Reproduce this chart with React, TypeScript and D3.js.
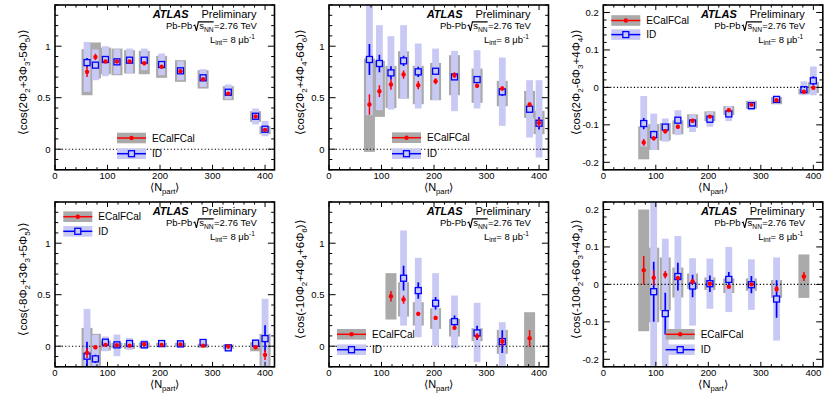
import React from "react";
import * as d3 from "d3";

const FONT = '"Liberation Sans", Arial, Helvetica, sans-serif';

// centrality bins: <N_part>
const NPART = [61, 77, 96, 118, 142, 170, 203, 239, 282, 330, 382, 400];
const X_TICKS = [0, 100, 200, 300, 400];
const Y_TICKS_WIDE = [0, 0.5, 1];
const Y_TICKS_NARROW = [-0.2, -0.1, 0, 0.1, 0.2];
const N = null;

// ---- Panel 1: <cos(2Φ2+3Φ3-5Φ5)>
const P1_EC_VAL = [0.751, 0.896, 0.851, 0.851, 0.851, 0.835, 0.8, 0.757, 0.68, 0.54, 0.317, 0.188];
const P1_EC_STAT = [0.05, 0.03, 0.015, 0.012, 0.012, 0.012, 0.012, 0.01, 0.01, 0.01, 0.01, 0.012];
const P1_EC_LO = [0.524, 0.686, 0.728, 0.718, 0.735, 0.728, 0.693, 0.654, 0.589, 0.476, 0.265, 0.146];
const P1_EC_HI = [0.971, 1.036, 0.987, 0.977, 0.961, 0.955, 0.906, 0.864, 0.767, 0.612, 0.369, 0.223];
const P1_ID_VAL = [0.841, 0.816, 0.871, 0.848, 0.864, 0.864, 0.822, 0.761, 0.693, 0.553, 0.32, 0.194];
const P1_ID_STAT = [0.045, 0.03, 0.015, 0.012, 0.012, 0.012, 0.012, 0.01, 0.01, 0.01, 0.01, 0.012];
const P1_ID_LO = [0.557, 0.67, 0.709, 0.728, 0.741, 0.767, 0.718, 0.67, 0.605, 0.485, 0.24, 0.126];
const P1_ID_HI = [1.042, 0.968, 1.0, 0.971, 0.977, 0.977, 0.929, 0.854, 0.777, 0.628, 0.395, 0.275];

// ---- Panel 2: <cos(2Φ2+4Φ4-6Φ6)>
const P2_EC_VAL = [N, 0.434, 0.563, 0.628, 0.725, 0.621, 0.66, 0.718, 0.615, 0.589, 0.434, 0.256];
const P2_EC_STAT = [N, 0.1, 0.057, 0.05, 0.04, 0.04, 0.03, 0.03, 0.02, 0.02, 0.02, 0.04];
const P2_EC_LO = [N, -0.026, 0.314, 0.401, 0.492, 0.437, 0.476, 0.524, 0.45, 0.417, 0.304, 0.146];
const P2_EC_HI = [N, 0.88, 0.858, 0.809, 0.951, 0.809, 0.838, 0.913, 0.783, 0.663, 0.566, 0.372];
const P2_ID_VAL = [N, 0.871, 0.832, 0.741, 0.858, 0.751, 0.757, 0.702, 0.676, 0.557, 0.388, 0.252];
const P2_ID_STAT = [N, 0.15, 0.085, 0.065, 0.05, 0.05, 0.03, 0.025, 0.035, 0.04, 0.03, 0.06];
const P2_ID_LO = [N, 0.33, 0.379, 0.385, 0.492, 0.395, 0.476, 0.369, 0.395, 0.227, 0.113, -0.081];
const P2_ID_HI = [N, 1.45, 1.204, 1.097, 1.204, 1.026, 0.977, 0.955, 0.961, 0.89, 0.67, 0.67];

// ---- Panel 3: <cos(2Φ2-6Φ3+4Φ4)>
const P3_EC_VAL = [N, -0.147, -0.136, -0.117, -0.105, -0.089, -0.078, -0.061, -0.046, -0.0345, -0.0115, -0.001];
const P3_EC_STAT = [N, 0.009, 0.006, 0.006, 0.005, 0.005, 0.004, 0.004, 0.003, 0.003, 0.003, 0.004];
const P3_EC_LO = [N, -0.192, -0.167, -0.142, -0.125, -0.108, -0.09, -0.074, -0.057, -0.045, -0.019, -0.015];
const P3_EC_HI = [N, -0.104, -0.098, -0.095, -0.088, -0.072, -0.064, -0.05, -0.036, -0.026, -0.0035, 0.014];
const P3_ID_VAL = [N, -0.0965, -0.126, -0.106, -0.0876, -0.095, -0.085, -0.0708, -0.0487, -0.032, -0.006, 0.0177];
const P3_ID_STAT = [N, 0.015, 0.01, 0.008, 0.006, 0.007, 0.007, 0.007, 0.004, 0.004, 0.005, 0.012];
const P3_ID_LO = [N, -0.158, -0.167, -0.145, -0.127, -0.119, -0.105, -0.09, -0.061, -0.043, -0.021, -0.021];
const P3_ID_HI = [N, -0.023, -0.07, -0.083, -0.061, -0.074, -0.065, -0.05, -0.035, -0.024, 0.016, 0.056];

// ---- Panel 4: <cos(-8Φ2+3Φ3+5Φ5)>
const P4_EC_VAL = [-0.065, -0.01, 0.013, 0.01, 0.006, 0.019, 0.013, 0.016, 0.006, -0.003, -0.01, -0.084];
const P4_EC_STAT = [0.05, 0.02, 0.01, 0.008, 0.008, 0.008, 0.008, 0.008, 0.008, 0.008, 0.01, 0.05];
const P4_EC_LO = [-0.25, -0.2, -0.042, -0.02, -0.026, -0.016, -0.01, -0.003, -0.016, -0.026, -0.049, -0.22];
const P4_EC_HI = [0.178, 0.12, 0.055, 0.032, 0.032, 0.036, 0.032, 0.032, 0.023, 0.016, 0.039, 0.12];
const P4_ID_VAL = [-0.097, -0.123, 0.039, 0.013, 0.026, 0.013, 0.026, 0.023, 0.036, -0.016, 0.029, 0.074];
const P4_ID_STAT = [0.14, 0.04, 0.02, 0.012, 0.01, 0.01, 0.01, 0.01, 0.01, 0.01, 0.02, 0.13];
const P4_ID_LO = [-0.25, -0.25, -0.049, -0.097, -0.036, -0.026, -0.01, -0.016, 0.006, -0.042, -0.016, -0.25];
const P4_ID_HI = [0.362, 0.11, 0.094, 0.113, 0.078, 0.061, 0.049, 0.055, 0.055, 0.016, 0.071, 0.46];

// ---- Panel 5: <cos(-10Φ2+4Φ4+6Φ6)>
const P5_EC_VAL = [N, N, N, 0.485, 0.453, 0.314, 0.275, 0.178, 0.097, 0.045, 0.078, N];
const P5_EC_STAT = [N, N, N, 0.05, 0.04, 0.02, 0.02, 0.02, 0.03, 0.04, 0.08, N];
const P5_EC_LO = [N, N, N, 0.259, 0.288, 0.2, 0.168, 0.094, 0.049, -0.074, -0.25, N];
const P5_EC_HI = [N, N, N, 0.709, 0.621, 0.427, 0.369, 0.265, 0.175, 0.159, 0.33, N];
const P5_ID_VAL = [N, N, N, N, 0.66, 0.54, 0.417, 0.239, 0.129, 0.045, N, N];
const P5_ID_STAT = [N, N, N, N, 0.12, 0.08, 0.06, 0.06, 0.07, 0.11, N, N];
const P5_ID_LO = [N, N, N, N, 0.2, 0.087, 0.006, -0.019, -0.155, -0.25, N, N];
const P5_ID_HI = [N, N, N, N, 1.123, 0.858, 0.709, 0.492, 0.421, 0.233, N, N];

// ---- Panel 6: <cos(-10Φ2+6Φ3+4Φ4)>
const P6_EC_VAL = [N, 0.038, 0.0177, 0.0257, 0.0168, 0.008, 0.0018, -0.0062, 0.0, -0.0124, 0.021, N];
const P6_EC_STAT = [N, 0.038, 0.02, 0.01, 0.006, 0.006, 0.004, 0.004, 0.004, 0.008, 0.012, N];
const P6_EC_LO = [N, -0.125, -0.101, -0.07, -0.035, -0.012, -0.015, -0.023, -0.017, -0.036, -0.036, N];
const P6_EC_HI = [N, 0.2, 0.098, 0.072, 0.045, 0.029, 0.0186, 0.016, 0.016, 0.0115, 0.08, N];
const P6_ID_VAL = [N, N, -0.0195, -0.078, 0.021, -0.0044, 0.0018, 0.0133, -0.0009, -0.039, N, N];
const P6_ID_STAT = [N, N, 0.08, 0.056, 0.037, 0.03, 0.022, 0.02, 0.023, 0.05, N, N];
const P6_ID_LO = [N, N, -0.3, -0.3, -0.141, -0.11, -0.065, -0.074, -0.068, -0.15, N, N];
const P6_ID_HI = [N, N, 0.218, 0.122, 0.129, 0.07, 0.069, 0.1, 0.067, 0.072, N, N];

const TITLES = [
  "⟨cos(2Φ_2+3Φ_3-5Φ_5)⟩",
  "⟨cos(2Φ_2+4Φ_4-6Φ_6)⟩",
  "⟨cos(2Φ_2-6Φ_3+4Φ_4)⟩",
  "⟨cos(-8Φ_2+3Φ_3+5Φ_5)⟩",
  "⟨cos(-10Φ_2+4Φ_4+6Φ_6)⟩",
  "⟨cos(-10Φ_2+6Φ_3+4Φ_4)⟩",
];

const COL_X = [0, 277, 553];
const ROW_Y = [0, 197];
const PLOT_LEFT = [55, 52, 50.3];
const PLOT_W = 219.5;
const X_MAX = 418;

const GRAY = "#aaaaaa";
const LAV = "#c9c9f6";

const PANELS = [
  { col: 0, row: 0, wide: true, title: TITLES[0], leg: { x: 117, y1: 138, y2: 153.7 },
    ec: { val: P1_EC_VAL, stat: P1_EC_STAT, lo: P1_EC_LO, hi: P1_EC_HI },
    id: { val: P1_ID_VAL, stat: P1_ID_STAT, lo: P1_ID_LO, hi: P1_ID_HI } },
  { col: 1, row: 0, wide: true, title: TITLES[1], leg: { x: 115, y1: 137.7, y2: 153.7 },
    ec: { val: P2_EC_VAL, stat: P2_EC_STAT, lo: P2_EC_LO, hi: P2_EC_HI },
    id: { val: P2_ID_VAL, stat: P2_ID_STAT, lo: P2_ID_LO, hi: P2_ID_HI } },
  { col: 2, row: 0, wide: false, title: TITLES[2], leg: { x: 58.3, y1: 20.5, y2: 34.6 },
    ec: { val: P3_EC_VAL, stat: P3_EC_STAT, lo: P3_EC_LO, hi: P3_EC_HI },
    id: { val: P3_ID_VAL, stat: P3_ID_STAT, lo: P3_ID_LO, hi: P3_ID_HI } },
  { col: 0, row: 1, wide: true, title: TITLES[3], leg: { x: 63.3, y1: 19.7, y2: 34.3 },
    ec: { val: P4_EC_VAL, stat: P4_EC_STAT, lo: P4_EC_LO, hi: P4_EC_HI },
    id: { val: P4_ID_VAL, stat: P4_ID_STAT, lo: P4_ID_LO, hi: P4_ID_HI } },
  { col: 1, row: 1, wide: true, title: TITLES[4], leg: { x: 60, y1: 137.3, y2: 152.7 },
    ec: { val: P5_EC_VAL, stat: P5_EC_STAT, lo: P5_EC_LO, hi: P5_EC_HI },
    id: { val: P5_ID_VAL, stat: P5_ID_STAT, lo: P5_ID_LO, hi: P5_ID_HI } },
  { col: 2, row: 1, wide: false, title: TITLES[5], leg: { x: 112.7, y1: 137.3, y2: 152.7 },
    ec: { val: P6_EC_VAL, stat: P6_EC_STAT, lo: P6_EC_LO, hi: P6_EC_HI },
    id: { val: P6_ID_VAL, stat: P6_ID_STAT, lo: P6_ID_LO, hi: P6_ID_HI } },
];

let _ctx: CanvasRenderingContext2D | null = null;
function tw(text: string, size: number) {
  if (!_ctx) _ctx = document.createElement("canvas").getContext("2d");
  if (!_ctx) return text.length * size * 0.55;
  _ctx.font = `${size}px ${FONT}`;
  return _ctx.measureText(text).width;
}

function segments(s: string) {
  const segs: { t: string; k: number }[] = [];
  let i = 0, buf = "";
  const push = (t: string, k: number) => { if (t) segs.push({ t, k }); };
  while (i < s.length) {
    const c = s[i];
    if (c === "_" || c === "^") {
      push(buf, 0); buf = "";
      const k = c === "_" ? 1 : 2;
      if (s[i + 1] === "{") { const j = s.indexOf("}", i + 2); push(s.slice(i + 2, j), k); i = j + 1; }
      else { push(s[i + 1], k); i += 2; }
    } else { buf += c; i++; }
  }
  push(buf, 0);
  return segs;
}

function Rich({ s, fs }: { s: string; fs: number }) {
  let cur = 0;
  return (
    <>
      {segments(s).map((sg, i) => {
        const target = sg.k === 1 ? 0.3 * fs : sg.k === 2 ? -0.42 * fs : 0;
        const dy = target - cur;
        cur = target;
        return (
          <tspan key={i} dy={dy !== 0 ? dy : undefined} fontSize={sg.k ? fs * 0.7 : fs}>{sg.t}</tspan>
        );
      })}
    </>
  );
}

function rangeStep(a: number, b: number, step: number) {
  const out: number[] = [];
  const n = Math.round((b - a) / step);
  for (let i = 0; i <= n; i++) out.push(+(a + i * step).toFixed(6));
  return out;
}

function Panel({ p, k }: { p: any; k: number }) {
  const ox = COL_X[p.col], oy = ROW_Y[p.row];
  const left = ox + PLOT_LEFT[p.col], right = left + PLOT_W;
  const top = oy + 5, bottom = oy + 169.8;
  const x = d3.scaleLinear().domain([0, X_MAX]).range([left, right]);
  const yDom = p.wide ? [-0.2, 1.4] : [-0.22, 0.22];
  const y = d3.scaleLinear().domain(yDom).range([bottom, top]);
  const yMajors = p.wide ? Y_TICKS_WIDE : Y_TICKS_NARROW;
  const yMinors = p.wide ? rangeStep(-0.2, 1.4, 0.1) : rangeStep(-0.22, 0.22, 0.02);
  const xMinors = rangeStep(0, 400, 20);
  const clip = `clip${k}`;
  const idx = d3.range(NPART.length);
  const ec = p.ec, id = p.id;
  const has = (s: any, i: number) => s.val[i] !== null && s.val[i] !== undefined;
  const fmt = (v: number) => String(+v.toFixed(2));

  const R = right - 17.5;
  const f2 = 9.5;
  const b2 = oy + 29.3;
  const w3 = tw("=2.76 TeV", f2);
  const x3 = R - w3;
  const wNN = tw("NN", f2 * 0.7);
  const xNN = x3 - wNN - 0.3;
  const xs = xNN - tw("s", f2);
  const xsq = xs - 5.8;
  const ov = b2 - 7.4;

  const legX = ox + p.leg.x;
  const ly1 = oy + p.leg.y1, ly2 = oy + p.leg.y2;

  return (
    <g>
      <defs>
        <clipPath id={clip}>
          <rect x={left} y={top} width={right - left} height={bottom - top} />
        </clipPath>
      </defs>
      <g clipPath={`url(#${clip})`}>
        {idx.filter((i) => has(ec, i)).map((i) => (
          <rect key={"eb" + i} x={x(NPART[i]) - 5.5} width={11} y={y(ec.hi[i])}
            height={y(ec.lo[i]) - y(ec.hi[i])} fill={GRAY} />
        ))}
        {idx.filter((i) => has(id, i)).map((i) => (
          <rect key={"ib" + i} x={x(NPART[i]) - 3.4} width={6.8} y={y(id.hi[i])}
            height={y(id.lo[i]) - y(id.hi[i])} fill={LAV} />
        ))}
        <line x1={left} x2={right} y1={y(0)} y2={y(0)} stroke="#000" strokeWidth={1.1} strokeDasharray="1.2 2.2" />
        {idx.filter((i) => has(id, i)).map((i) => {
          const cx = x(NPART[i]), cy = y(id.val[i]);
          const yt = y(id.val[i] + id.stat[i]), yb = y(id.val[i] - id.stat[i]);
          return (
            <g key={"ip" + i}>
              {cy - 3 > yt && <line x1={cx} x2={cx} y1={yt} y2={cy - 3} stroke="#0000ff" strokeWidth={1.7} />}
              {yb > cy + 3 && <line x1={cx} x2={cx} y1={cy + 3} y2={yb} stroke="#0000ff" strokeWidth={1.7} />}
              <rect x={cx - 3} y={cy - 3} width={6} height={6} fill="none" stroke="#0000ff" strokeWidth={1.3} />
            </g>
          );
        })}
        {idx.filter((i) => has(ec, i)).map((i) => {
          const cx = x(NPART[i]), cy = y(ec.val[i]);
          return (
            <g key={"ep" + i}>
              <line x1={cx} x2={cx} y1={y(ec.val[i] + ec.stat[i])} y2={y(ec.val[i] - ec.stat[i])}
                stroke="#ff0000" strokeWidth={1.5} />
              <circle cx={cx} cy={cy} r={2.2} fill="#ff0000" />
            </g>
          );
        })}
      </g>
      {/* frame */}
      <rect x={left} y={top} width={right - left} height={bottom - top} fill="none" stroke="#000" strokeWidth={1.6} />
      {/* x ticks */}
      {xMinors.map((v) => {
        const major = X_TICKS.includes(v);
        const L = major ? 5 : 2.6;
        return (
          <g key={"xt" + v}>
            <line x1={x(v)} x2={x(v)} y1={bottom} y2={bottom - L} stroke="#000" strokeWidth={1} />
            <line x1={x(v)} x2={x(v)} y1={top} y2={top + L} stroke="#000" strokeWidth={1} />
          </g>
        );
      })}
      {yMinors.map((v) => {
        const major = yMajors.some((m) => Math.abs(m - v) < 1e-6);
        const L = major ? 6.6 : 3.3;
        if (y(v) < top - 0.1 || y(v) > bottom + 0.1) return null;
        return (
          <g key={"yt" + v}>
            <line x1={left} x2={left + L} y1={y(v)} y2={y(v)} stroke="#000" strokeWidth={1} />
            <line x1={right} x2={right - L} y1={y(v)} y2={y(v)} stroke="#000" strokeWidth={1} />
          </g>
        );
      })}
      {X_TICKS.map((v) => (
        <text key={"xl" + v} x={x(v)} y={bottom + 9} textAnchor="middle" fontSize={9.5}>{v}</text>
      ))}
      {yMajors.map((v) => (
        <text key={"yl" + v} x={left - 4.5} y={y(v) + 3.4} textAnchor="end" fontSize={9.5}>{fmt(v)}</text>
      ))}
      {/* axis titles */}
      <text x={(left + right) / 2} y={oy + 191} textAnchor="middle" fontSize={11}>
        <Rich s="⟨N_{part}⟩" fs={11} />
      </text>
      <text transform={`translate(${ox + 26.5},${oy + 82}) rotate(-90)`} textAnchor="middle" fontSize={11.5}>
        <Rich s={p.title} fs={11.5} />
      </text>
      {/* ATLAS label */}
      <text x={right - 86} y={oy + 18.2} textAnchor="end" fontSize={11} fontWeight="bold" fontStyle="italic">ATLAS</text>
      <text x={right - 18} y={oy + 18.2} textAnchor="end" fontSize={11}>Preliminary</text>
      <text x={xsq - 1.2} y={b2} textAnchor="end" fontSize={f2}>Pb-Pb</text>
      <path d={`M${xsq},${b2 - 3.4} L${xsq + 1.3},${b2 - 4.2} L${xsq + 2.9},${b2 + 1.6} L${xsq + 4.9},${ov} L${x3 - 0.3},${ov}`}
        fill="none" stroke="#000" strokeWidth={1.1} />
      <text x={xs} y={b2} fontSize={f2}>s</text>
      <text x={xNN} y={b2 + 2.6} fontSize={f2 * 0.7}>NN</text>
      <text x={x3} y={b2} fontSize={f2}>=2.76 TeV</text>
      <text x={right - 19.5} y={oy + 42.5} textAnchor="end" fontSize={f2}>
        <Rich s="L_{int}= 8 μb^{-1}" fs={f2} />
      </text>
      {/* legend */}
      <rect x={legX} y={ly1 - 5.3} width={29} height={10.6} fill={GRAY} />
      <line x1={legX} x2={legX + 29} y1={ly1} y2={ly1} stroke="#ff0000" strokeWidth={1.5} />
      <circle cx={legX + 14.5} cy={ly1} r={2.2} fill="#ff0000" />
      <text x={legX + 35} y={ly1 + 3.6} fontSize={10}>ECalFCal</text>
      <rect x={legX} y={ly2 - 5.3} width={29} height={10.6} fill={LAV} />
      <line x1={legX} x2={legX + 29} y1={ly2} y2={ly2} stroke="#0000ff" strokeWidth={1.5} />
      <rect x={legX + 11.5} y={ly2 - 3} width={6} height={6} fill={LAV} stroke="#0000ff" strokeWidth={1.3} />
      <text x={legX + 35} y={ly2 + 3.6} fontSize={10}>ID</text>
    </g>
  );
}

export default function App() {
  return (
    <svg width={830} height={397} viewBox="0 0 830 397"
      style={{ position: "absolute", left: 0, top: 0, background: "#fff" }}
      fontFamily={FONT}>
      <rect x={0} y={0} width={830} height={397} fill="#fff" />
      {PANELS.map((p, k) => <Panel key={k} p={p} k={k} />)}
    </svg>
  );
}
